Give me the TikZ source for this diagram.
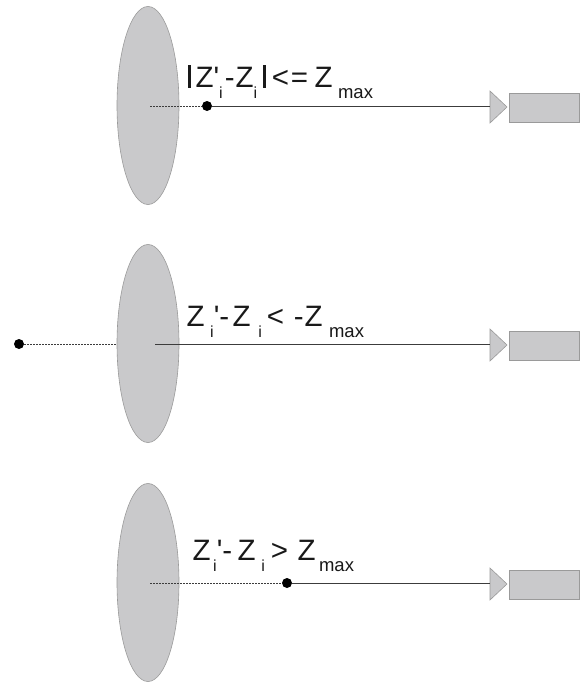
\documentclass[tikz,border=0pt]{standalone}
\usepackage{fontspec}
\setmainfont{Liberation Sans}
\newfontfamily\formfont[Ligatures=TeXOff]{Liberation Sans}
\usetikzlibrary{shapes.geometric}
\definecolor{lensfill}{HTML}{C9C9CB}
\definecolor{lensdraw}{HTML}{9A9A9A}
\definecolor{linecol}{HTML}{3C3C3C}
\newcommand{\sbi}{\raisebox{-11pt}{\fontsize{16}{16}\selectfont i}}
\newcommand{\sbmax}{\raisebox{-11pt}{\fontsize{18.5}{18.5}\selectfont max}}
\newcommand{\barsym}{\rule{2.8pt}{22pt}}
\tikzset{
  lens/.style={ellipse, fill=lensfill, draw=lensdraw, line width=0.6pt, minimum width=62pt, minimum height=198pt, inner sep=0pt},
  pt/.style={circle, fill=black, inner sep=0pt, minimum size=10pt},
  ray/.style={draw=linecol, line width=0.9pt},
  dotray/.style={draw=linecol, line width=0.9pt, dash pattern=on 1.5pt off 1.5pt},
  detector/.style={rectangle, fill=lensfill, draw=lensdraw, line width=0.6pt, minimum width=70pt, minimum height=29pt, inner sep=0pt},
  cone/.style={fill=lensfill, draw=lensdraw, line width=0.6pt},
  formula/.style={anchor=base west, inner sep=0pt, text=black!90, font=\formfont\fontsize{29.5}{29.5}\selectfont}
}
\begin{document}
\begin{tikzpicture}[x=1pt,y=-1pt]
\useasboundingbox (0,0) rectangle (582,685);
% ---------- panel 1 ----------
\node[lens] (L1) at (148,105.5) {};
\coordinate (s1) at (150,106);
\node[pt] (d1) at (207,106) {};
\fill[cone] (490,91) -- (507,107) -- (490,123) -- cycle;
\coordinate (t1) at (490,106);
\node[detector] (D1) at (544,107.5) {};
\draw[dotray] (s1) -- (d1);
\draw[ray] (d1) -- (t1);
\node[formula] (f1) at (188,87.5) {\barsym\kern4.5pt Z'\sbi\kern2.2pt-\kern0.8pt Z\sbi\kern6.1pt\barsym\kern5.8pt<\kern1.8pt=\kern6.5pt Z\kern5.5pt\sbmax};
% ---------- panel 2 ----------
\node[pt] (d2) at (19,344) {};
\coordinate (c2) at (148,344);
\draw[dotray] (d2) -- (c2);
\node[lens] (L2) at (148,343.5) {};
\coordinate (s2) at (155,344);
\fill[cone] (490,329) -- (507,345) -- (490,361) -- cycle;
\coordinate (t2) at (490,344);
\node[detector] (D2) at (544,345.5) {};
\draw[ray] (s2) -- (t2);
\node[formula] (f2) at (186.3,326.5) {Z\kern5.7pt\sbi'-\kern3.3pt Z\kern7.7pt\sbi\kern5pt<\kern9.9pt-\kern0.8pt Z\kern6.5pt\sbmax};
% ---------- panel 3 ----------
\node[lens] (L3) at (148,582.5) {};
\coordinate (s3) at (150,583);
\node[pt] (d3) at (287,583) {};
\fill[cone] (490,568) -- (507,584) -- (490,600) -- cycle;
\coordinate (t3) at (490,583);
\node[detector] (D3) at (544,584.5) {};
\draw[dotray] (s3) -- (d3);
\draw[ray] (d3) -- (t3);
\node[formula] (f3) at (192.3,560.5) {Z\kern2.7pt\sbi'-\kern5.3pt Z\kern5.7pt\sbi\kern6pt>\kern9.5pt Z\kern3.5pt\sbmax};
\end{tikzpicture}
\end{document}
